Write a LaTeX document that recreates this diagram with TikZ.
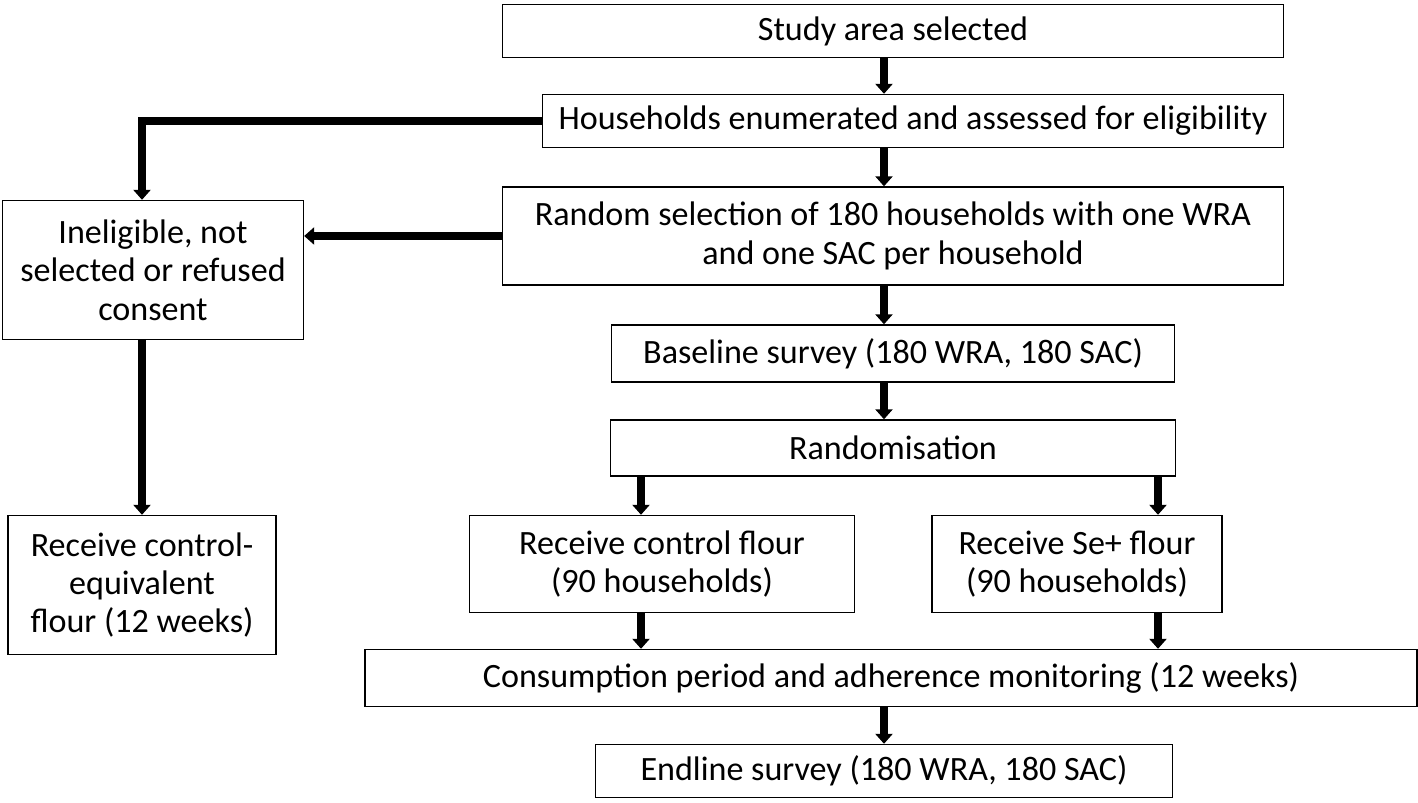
\documentclass[tikz,border=0pt]{standalone}
\usepackage{fontspec}
\setmainfont{Carlito}
\usepackage{tikz}
\usetikzlibrary{arrows.meta}
\usetikzlibrary{positioning}

\tikzset{
  box/.style={draw, line width=0.8pt, inner sep=0pt, align=center,
    font=\fontsize{19.4}{21.8}\selectfont},
  arr/.style={line width=4pt, -{Triangle[width=0.34cm,length=0.2cm]}},
  thickarr/.style={arr, line width=5pt},
}

\begin{document}
\begin{tikzpicture}[x=0.02cm, y=-0.02cm]
        \useasboundingbox (0,0) rectangle (1418,803);

        \node[box, minimum width=15.62cm, minimum height=1.06cm] (study) at (893,31) {Study area selected};
        \node[box, minimum width=14.82cm, minimum height=1.06cm] (house) at (913,121) {Households enumerated and assessed for eligibility};
        \node[box, minimum width=15.62cm, minimum height=1.96cm] (random) at (893,236) {Random selection of 180 households with one WRA\\ and one SAC per household};
        \node[box, minimum width=6.02cm, minimum height=2.78cm] (inel) at (153,270) {Ineligible, not\\ selected or refused\\ consent};
        \node[box, minimum width=11.26cm, minimum height=1.14cm] (base) at (893,353.5) {Baseline survey (180 WRA, 180 SAC)};
        \node[box, minimum width=11.3cm, minimum height=1.12cm] (randm) at (893,448) {Randomisation};
        \node[box, minimum width=7.7cm, minimum height=1.94cm] (ctrl) at (662,564) {Receive control flour\\ (90 households)};
        \node[box, minimum width=5.8cm, minimum height=1.94cm] (sepl) at (1077,564) {Receive Se+ flour\\ (90 households)};
        \node[box, minimum width=5.36cm, minimum height=2.78cm] (recv) at (142,585) {Receive control-\\ equivalent\\ flour (12 weeks)};
        \node[box, minimum width=21.04cm, minimum height=1.14cm] (cons) at (891,678) {Consumption period and adherence monitoring (12 weeks)};
        \node[box, minimum width=11.54cm, minimum height=1.06cm] (endl) at (884,771) {Endline survey (180 WRA, 180 SAC)};

        \coordinate (mid) at (884,0);
        \coordinate (lft) at (641,0);
        \coordinate (rgt) at (1158,0);

        \draw[arr] (study.south -| mid) -- (house.north -| mid);
        \draw[arr] (house.south -| mid) -- (random.north -| mid);
        \draw[arr] (random.south -| mid) -- (base.north -| mid);
        \draw[arr] (base.south -| mid) -- (randm.north -| mid);
        \draw[arr] (cons.south -| mid) -- (endl.north -| mid);

        \draw[thickarr] (house.west) -| (inel.north -| recv.north);
        \draw[arr] (random.west) -- (random.west -| inel.east);
        \draw[arr] (inel.south -| recv.north) -- (recv.north);

        \draw[arr] (randm.south -| lft) -- (ctrl.north -| lft);
        \draw[arr] (randm.south -| rgt) -- (sepl.north -| rgt);
        \draw[arr] (ctrl.south -| lft) -- (cons.north -| lft);
        \draw[arr] (sepl.south -| rgt) -- (cons.north -| rgt);
    \end{tikzpicture}
\end{document}
